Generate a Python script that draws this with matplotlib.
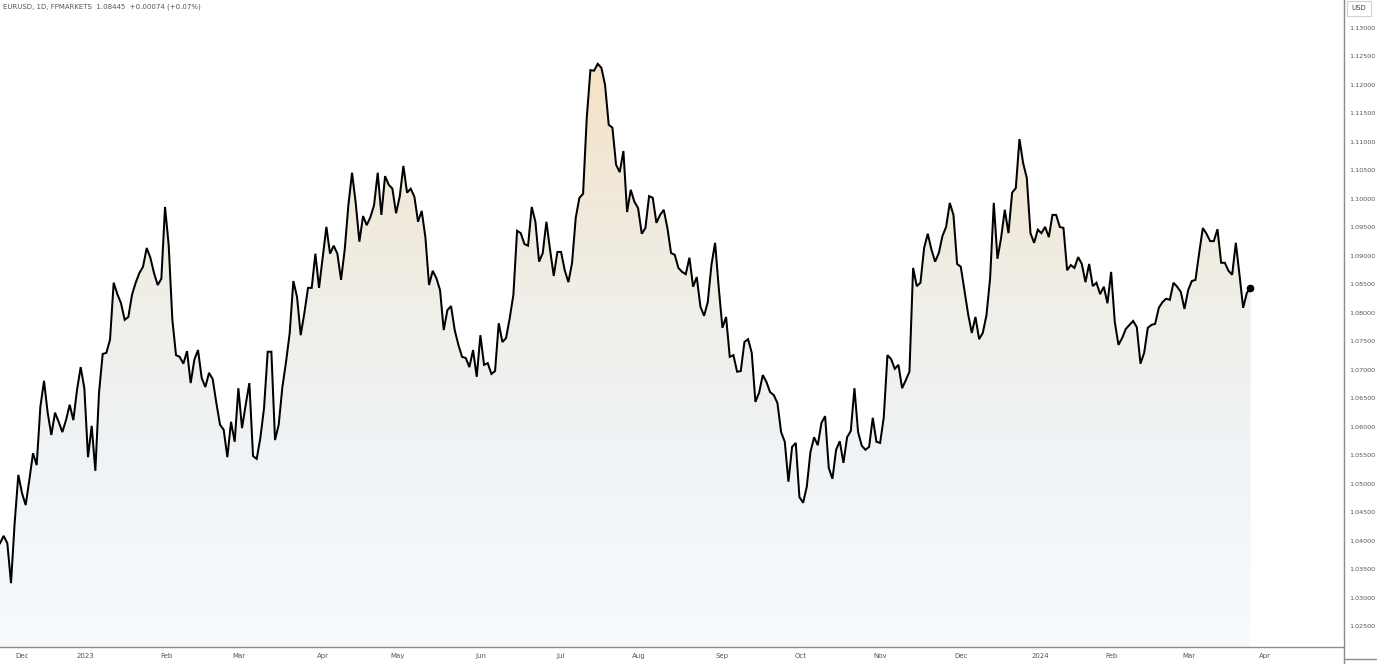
import numpy as np
import matplotlib
matplotlib.use("Agg")
import matplotlib.pyplot as plt
from matplotlib.colors import LinearSegmentedColormap
from matplotlib.patches import Rectangle

# EURUSD daily closes (one per trading bar)
closes = [
    1.0396, 1.0409, 1.0396, 1.0326, 1.0432, 1.0516, 1.0484, 1.0463, 1.0507, 1.0554,
    1.0533, 1.0635, 1.0681, 1.0625, 1.0586, 1.0625, 1.0609, 1.0591, 1.0612, 1.0639,
    1.0612, 1.0665, 1.0705, 1.0668, 1.0547, 1.0602, 1.0523, 1.0660, 1.0728, 1.0730,
    1.0753, 1.0853, 1.0833, 1.0817, 1.0788, 1.0793, 1.0832, 1.0853, 1.0870, 1.0881,
    1.0914, 1.0897, 1.0870, 1.0849, 1.0860, 1.0986, 1.0919, 1.0788, 1.0726, 1.0723,
    1.0711, 1.0733, 1.0677, 1.0718, 1.0735, 1.0686, 1.0670, 1.0695, 1.0684, 1.0642,
    1.0604, 1.0595, 1.0547, 1.0609, 1.0574, 1.0668, 1.0598, 1.0639, 1.0677, 1.0549,
    1.0544, 1.0581, 1.0633, 1.0732, 1.0732, 1.0577, 1.0604, 1.0670, 1.0714, 1.0765,
    1.0856, 1.0828, 1.0761, 1.0800, 1.0844, 1.0844, 1.0904, 1.0844, 1.0898, 1.0951,
    1.0904, 1.0918, 1.0904, 1.0858, 1.0911, 1.0989, 1.1046, 1.0993, 1.0925, 1.0970,
    1.0954, 1.0968, 1.0989, 1.1046, 1.0972, 1.1040, 1.1025, 1.1018, 1.0975, 1.1004,
    1.1058, 1.1011, 1.1018, 1.1004, 1.0960, 1.0979, 1.0933, 1.0849, 1.0874, 1.0861,
    1.0840, 1.0770, 1.0805, 1.0812, 1.0770, 1.0744, 1.0723, 1.0721, 1.0705, 1.0735,
    1.0688, 1.0761, 1.0709, 1.0712, 1.0693, 1.0698, 1.0782, 1.0749, 1.0756, 1.0791,
    1.0832, 1.0944, 1.0940, 1.0921, 1.0918, 1.0986, 1.0960, 1.0890, 1.0905, 1.0960,
    1.0911, 1.0865, 1.0907, 1.0907, 1.0875, 1.0854, 1.0888, 1.0967, 1.1002, 1.1009,
    1.1142, 1.1226, 1.1225, 1.1237, 1.1230, 1.1200, 1.1130, 1.1125, 1.1060, 1.1047,
    1.1084, 1.0977, 1.1016, 1.0995, 1.0984, 1.0939, 1.0949, 1.1005, 1.1002, 1.0958,
    1.0972, 1.0981, 1.0949, 1.0905, 1.0902, 1.0879, 1.0872, 1.0868, 1.0897, 1.0846,
    1.0863, 1.0811, 1.0795, 1.0819, 1.0884, 1.0923, 1.0844, 1.0774, 1.0793, 1.0723,
    1.0726, 1.0697, 1.0698, 1.0749, 1.0754, 1.0730, 1.0644, 1.0660, 1.0691, 1.0679,
    1.0661, 1.0656, 1.0642, 1.0591, 1.0574, 1.0504, 1.0565, 1.0572, 1.0477, 1.0467,
    1.0495, 1.0556, 1.0582, 1.0568, 1.0607, 1.0619, 1.0528, 1.0509, 1.0560, 1.0575,
    1.0537, 1.0582, 1.0593, 1.0668, 1.0591, 1.0567, 1.0560, 1.0565, 1.0616, 1.0574,
    1.0572, 1.0617, 1.0726, 1.0719, 1.0702, 1.0709, 1.0668, 1.0682, 1.0697, 1.0879,
    1.0847, 1.0853, 1.0914, 1.0939, 1.0911, 1.0890, 1.0905, 1.0935, 1.0951, 1.0993,
    1.0972, 1.0886, 1.0881, 1.0840, 1.0798, 1.0765, 1.0793, 1.0754, 1.0765, 1.0796,
    1.0861, 1.0993, 1.0895, 1.0932, 1.0981, 1.0940, 1.1011, 1.1019, 1.1105, 1.1063,
    1.1037, 1.0940, 1.0923, 1.0946, 1.0940, 1.0951, 1.0933, 1.0972, 1.0972, 1.0951,
    1.0949, 1.0875, 1.0884, 1.0879, 1.0898, 1.0886, 1.0854, 1.0886, 1.0847, 1.0853,
    1.0833, 1.0846, 1.0817, 1.0872, 1.0784, 1.0744, 1.0756, 1.0772, 1.0779, 1.0786,
    1.0775, 1.0711, 1.0730, 1.0774, 1.0779, 1.0781, 1.0809, 1.0819, 1.0825, 1.0823,
    1.0853, 1.0846, 1.0837, 1.0807, 1.0840, 1.0856, 1.0858, 1.0905, 1.0949, 1.0939,
    1.0926, 1.0926, 1.0947, 1.0888, 1.0888, 1.0874, 1.0867, 1.0923, 1.0867, 1.0809,
    1.0835, 1.08445,
]

# month labels at bar positions
month_pos = [6, 23.2, 45.5, 65.2, 88.1, 108.3, 131.2, 153.0, 174.3, 196.9,
             218.2, 240.0, 262.1, 283.6, 303.0, 324.2, 345.0]
month_lbl = ["Dec", "2023", "Feb", "Mar", "Apr", "May", "Jun", "Jul", "Aug", "Sep",
             "Oct", "Nov", "Dec", "2024", "Feb", "Mar", "Apr"]

price_ticks = np.arange(1.025, 1.1301, 0.005)

title = "EURUSD, 1D, FPMARKETS  1.08445  +0.00074 (+0.07%)"

x = np.arange(len(closes))
y = np.array(closes)

W, H = 1377, 664
fig = plt.figure(figsize=(W / 100, H / 100), dpi=100)
fig.patch.set_facecolor("white")
ax = fig.add_axes([0, 17 / H, 1344 / W, 647 / H])

xmax = 366.5
ylo, yhi = 1.0214, 1.1349
ax.set_xlim(0, xmax)
ax.set_ylim(ylo, yhi)

# gradient fill under the line
cmap = LinearSegmentedColormap.from_list(
    "grad", [(0.0, "#f8fbfe"), (0.35, "#f0f3f5"), (0.6, "#efeee7"),
             (0.85, "#f2e7d4"), (1.0, "#f7e2c2")])
grad = np.linspace(0, 1, 256).reshape(-1, 1)
im = ax.imshow(grad, extent=[0, xmax, ylo, y.max()], origin="lower",
               aspect="auto", cmap=cmap, zorder=1)
poly = ax.fill_between(x, y, ylo, color="none", lw=0)
im.set_clip_path(poly.get_paths()[0], transform=ax.transData)

ax.plot(x, y, color="black", lw=1.45, zorder=3, solid_joinstyle="miter")
ax.plot(x[-1], y[-1], "o", color="black", ms=4.5, zorder=4)

for s in ["top", "left", "right"]:
    ax.spines[s].set_visible(False)
ax.spines["bottom"].set_color("#8c8c8c")
ax.spines["bottom"].set_linewidth(1.0)

ax.yaxis.tick_right()
ax.set_yticks(price_ticks)
ax.set_yticklabels(["%.5f" % v for v in price_ticks])
ax.tick_params(axis="y", length=0, pad=13, labelsize=4.6, labelcolor="#555555")
for lab in ax.get_yticklabels():
    lab.set_horizontalalignment("center")
ax.set_xticks(month_pos)
ax.set_xticklabels(month_lbl)
ax.tick_params(axis="x", length=0, pad=4, labelsize=5, labelcolor="#555555")

# price scale border lines and the USD box
fig.add_artist(plt.Line2D([1344 / W, 1344 / W], [0, 1], color="#8c8c8c", lw=1.0))
fig.add_artist(plt.Line2D([1344 / W, 1], [5 / H, 5 / H], color="#8c8c8c", lw=1.0))
fig.add_artist(Rectangle((1347 / W, 1 - 16 / H), 24 / W, 15 / H, transform=fig.transFigure,
                         facecolor="white", edgecolor="#d0d0d0", lw=0.8))
fig.text(1359 / W, 1 - 8.5 / H, "USD", fontsize=5, color="#444444", ha="center", va="center")

fig.text(3 / W, 1 - 7 / H, title, fontsize=5, color="#555555", ha="left", va="center")

fig.savefig("out.png", dpi=100, facecolor="white")
